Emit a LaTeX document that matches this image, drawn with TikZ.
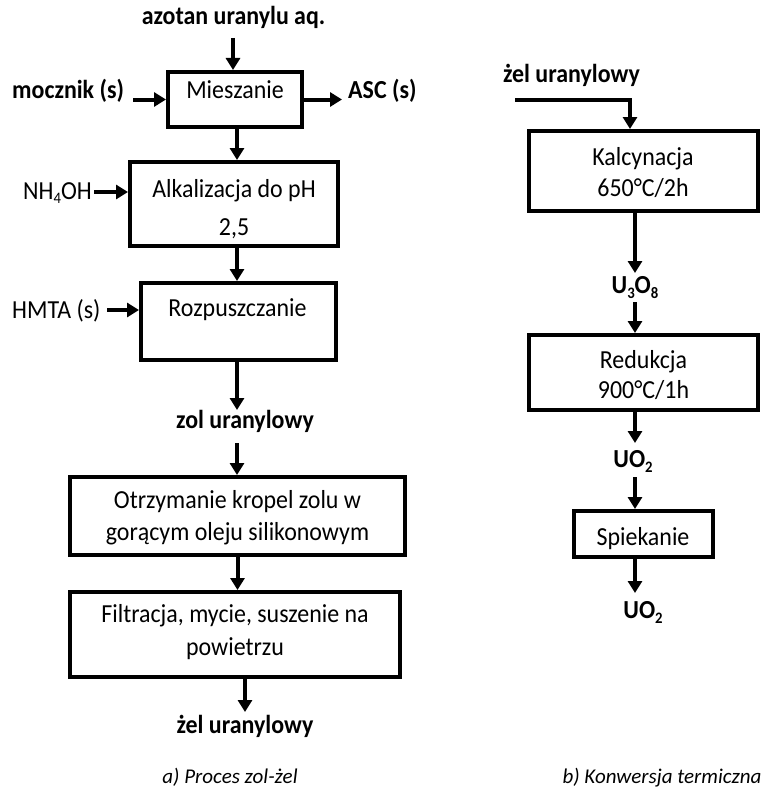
\documentclass[tikz,border=0pt]{standalone}
\usepackage{fontspec}
\setmainfont{Carlito}[FakeStretch=0.92]
\newfontfamily\capfont{Carlito}
\usetikzlibrary{arrows.meta}
\newcommand{\mysub}[1]{\raisebox{-0.4ex}{\fontsize{16}{16}\selectfont #1}}
\begin{document}
\begin{tikzpicture}[x=1pt,y=-1pt,
  box/.style={draw=black, line width=4pt, inner sep=0pt},
  txt/.style={anchor=base, inner sep=0pt, font=\fontsize{26}{30}\selectfont},
  bld/.style={anchor=base, inner sep=0pt, font=\fontsize{26}{30}\selectfont\bfseries},
  capt/.style={anchor=base, inner sep=0pt, font=\capfont\fontsize{21}{25}\selectfont\itshape},
  arr/.style={line width=4pt, -{Triangle[length=12pt,width=14pt]}}
]
\useasboundingbox (0,0) rectangle (768,792);

% ---- boxes, left column
\node[box, minimum width=134pt, minimum height=55pt] (mix) at (235,99.5) {};
\node[box, minimum width=208pt, minimum height=84pt] (alk) at (234,204) {};
\node[box, minimum width=195pt, minimum height=77pt] (roz) at (238.5,321.5) {};
\node[box, minimum width=335pt, minimum height=78pt] (otr) at (237.5,516) {};
\node[box, minimum width=330pt, minimum height=85pt] (fil) at (235,634.5) {};
% ---- boxes, right column
\node[box, minimum width=229pt, minimum height=80pt] (kal) at (643.5,171) {};
\node[box, minimum width=229pt, minimum height=75pt] (red) at (643.5,372.5) {};
\node[box, minimum width=139pt, minimum height=46pt] (spi) at (643.5,534) {};

% ---- texts, left column
\node[bld] (azo) at (233.5,25) {azotan uranylu aq.};
\node[bld, anchor=base west] (mocz) at (12,98) {mocznik (s)};
\node[bld, anchor=base west] (asc) at (348,98) {ASC (s)};
\node[txt] (tmix) at (235,98) {Mieszanie};
\node[txt, anchor=base west] (nh) at (23,199) {NH\mysub{4}OH};
\node[txt] (talka) at (234,197) {Alkalizacja do pH};
\node[txt] (talkb) at (234,235) {2,5};
\node[txt, anchor=base west] (hmta) at (12,318) {HMTA (s)};
\node[txt] (troz) at (237.5,316) {Rozpuszczanie};
\node[bld] (zol) at (245,428) {zol uranylowy};
\node[txt] (totra) at (237.5,508) {Otrzymanie kropel zolu w};
\node[txt] (totrb) at (237.5,540) {gorącym oleju silikonowym};
\node[txt] (tfila) at (235,622) {Filtracja, mycie, suszenie na};
\node[txt] (tfilb) at (235,655) {powietrzu};
\node[bld] (zela) at (245,733) {żel uranylowy};
\node[capt] (capa) at (230,783) {a) Proces zol-żel};

% ---- texts, right column
\node[bld] (zelb) at (571.5,82) {żel uranylowy};
\node[txt] (tkala) at (643,165) {Kalcynacja};
\node[txt] (tkalb) at (643,196) {650°C/2h};
\node[bld] (u3o8) at (635,293) {U\mysub{3}O\mysub{8}};
\node[txt] (treda) at (643.5,368) {Redukcja};
\node[txt] (tredb) at (643.5,398) {900°C/1h};
\node[bld] (uo2a) at (633,467) {UO\mysub{2}};
\node[txt] (tspi) at (643,545) {Spiekanie};
\node[bld] (uo2b) at (643,618) {UO\mysub{2}};
\node[capt] (capb) at (662,783) {b) Konwersja termiczna};

% ---- connectors, left column
\coordinate (s0) at (233,38);
\draw[arr] (s0) -- (s0 |- mix.north);
\coordinate (s1) at (133,99.5);
\draw[arr] (s1) -- (mix.west);
\coordinate (e1) at (342,99.5);
\draw[arr] (mix.east) -- (e1);
\draw[arr] ([xshift=2pt]mix.south) -- ([xshift=2pt]mix.south |- alk.north);
\coordinate (s2) at (94,192);
\draw[arr] (s2) -- (s2 -| alk.west);
\draw[arr] ([xshift=3pt]alk.south) -- ([xshift=3pt]alk.south |- roz.north);
\coordinate (s3) at (107,310);
\draw[arr] (s3) -- (s3 -| roz.west);
\coordinate (e3) at (237,410);
\draw[arr] (roz.south -| e3) -- (e3);
\coordinate (s4) at (237,443);
\draw[arr] (s4) -- (s4 |- otr.north);
\draw[arr] (otr.south) -- (otr.south |- fil.north);
\coordinate (e5) at (245,712);
\draw[arr] (fil.south -| e5) -- (e5);

% ---- connectors, right column
\coordinate (s6) at (515,100);
\draw[arr] (s6) -| ([xshift=-13.5pt]kal.north);
\coordinate (e6) at (635,273);
\draw[arr] (kal.south -| e6) -- (e6);
\coordinate (s7) at (635,302);
\draw[arr] (s7) -- (s7 |- red.north);
\coordinate (e7) at (635,443);
\draw[arr] (red.south -| e7) -- (e7);
\coordinate (s8) at (635,477);
\draw[arr] (s8) -- (s8 |- spi.north);
\coordinate (e8) at (635,593);
\draw[arr] (spi.south -| e8) -- (e8);
\end{tikzpicture}
\end{document}
